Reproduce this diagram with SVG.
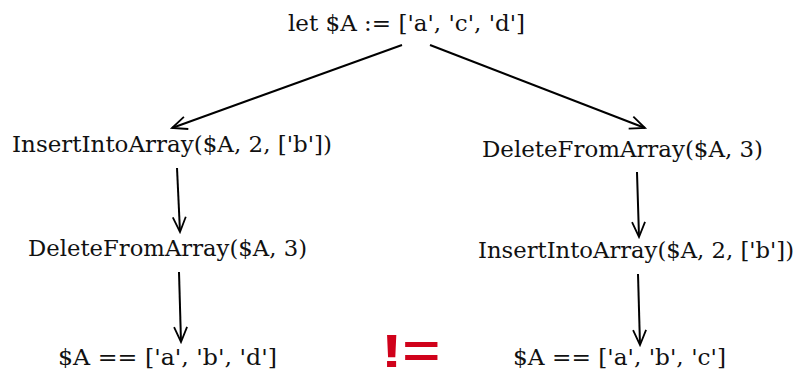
<svg xmlns="http://www.w3.org/2000/svg" width="801" height="378" viewBox="0 0 801 378">
<style>
.t{font-family:"DejaVu Serif","Liberation Serif",serif;font-size:23px;fill:#111}
.c{stroke:#000;stroke-width:2;fill:none;marker-end:url(#ah)}
.ne{font-family:"Liberation Sans",Arial,sans-serif;font-weight:bold;font-size:46px;fill:#d0021b}
</style>
<defs>
<marker id="ah" markerWidth="18" markerHeight="16" refX="16" refY="8" orient="auto" markerUnits="userSpaceOnUse">
<path d="M1,1.5 L16,8 L1,14.5" fill="none" stroke="#000" stroke-width="1.8"/>
</marker>
</defs>
<g id="connectors">
<line class="c" x1="402" y1="45" x2="172" y2="128"/>
<line class="c" x1="430" y1="45" x2="645" y2="128"/>
<line class="c" x1="177" y1="168" x2="180" y2="232"/>
<line class="c" x1="179" y1="272" x2="181" y2="342"/>
<line class="c" x1="637" y1="172" x2="639" y2="237"/>
<line class="c" x1="638" y1="274" x2="640" y2="345"/>
</g>
<g id="start"><text class="t" x="288" y="31" textLength="237" lengthAdjust="spacingAndGlyphs">let $A := ['a', 'c', 'd']</text></g>
<g id="left1"><text class="t" x="12" y="152" textLength="320" lengthAdjust="spacingAndGlyphs">InsertIntoArray($A, 2, ['b'])</text></g>
<g id="right1"><text class="t" x="482" y="157" textLength="281" lengthAdjust="spacingAndGlyphs">DeleteFromArray($A, 3)</text></g>
<g id="left2"><text class="t" x="28" y="256" textLength="279" lengthAdjust="spacingAndGlyphs">DeleteFromArray($A, 3)</text></g>
<g id="right2"><text class="t" x="478" y="258" textLength="316" lengthAdjust="spacingAndGlyphs">InsertIntoArray($A, 2, ['b'])</text></g>
<g id="left3"><text class="t" x="58" y="365" textLength="219" lengthAdjust="spacingAndGlyphs">$A == ['a', 'b', 'd']</text></g>
<g id="right3"><text class="t" x="513" y="365" textLength="213" lengthAdjust="spacingAndGlyphs">$A == ['a', 'b', 'c']</text></g>
<g id="neq"><text class="ne" x="381" y="367" textLength="59" lengthAdjust="spacingAndGlyphs">!=</text></g>
</svg>
